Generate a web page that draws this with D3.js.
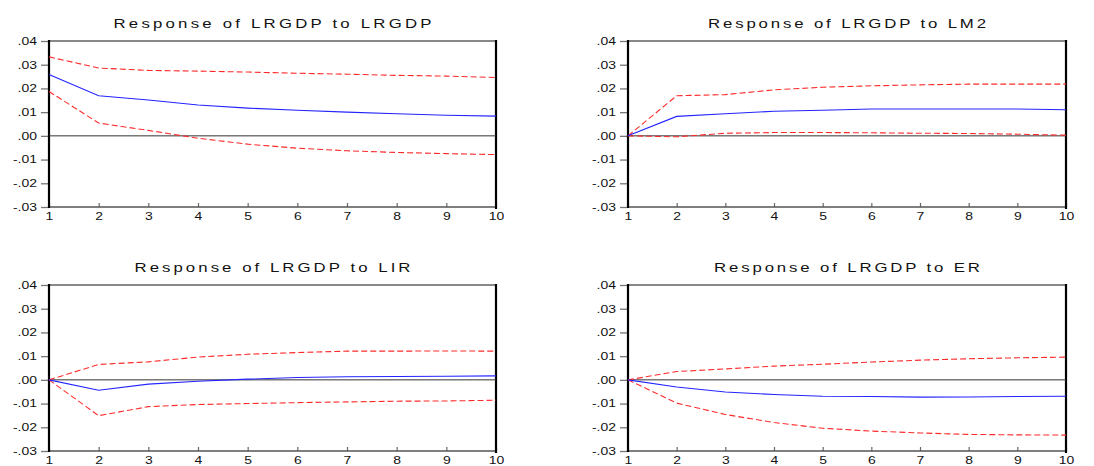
<!DOCTYPE html>
<html>
<head>
<meta charset="utf-8">
<script src="https://cdn.jsdelivr.net/npm/d3@7"></script>
<style>
  body { margin: 0; background: #fff; }
  svg { display: block; }
  text { font-family: "Liberation Sans", Arial, sans-serif; fill: #111; }
</style>
</head>
<body>
<svg id="chart" width="1094" height="466"></svg>
<script>
// impulse response periods and y ticks
const periods = [1, 2, 3, 4, 5, 6, 7, 8, 9, 10];
const yTicks = [-0.03, -0.02, -0.01, 0.00, 0.01, 0.02, 0.03, 0.04];

const titles = ["Response of LRGDP to LRGDP", "Response of LRGDP to LM2",
                "Response of LRGDP to LIR", "Response of LRGDP to ER"];

// response, lower band, upper band
const respLRGDP = [0.0259, 0.0169, 0.0151, 0.0130, 0.0117, 0.0108, 0.0100, 0.0093, 0.0087, 0.0083];
const lowLRGDP  = [0.0187, 0.0054, 0.0023, -0.0010, -0.0035, -0.0052, -0.0063, -0.0070, -0.0075, -0.0079];
const upLRGDP   = [0.0333, 0.0286, 0.0276, 0.0273, 0.0269, 0.0264, 0.0260, 0.0255, 0.0252, 0.0246];

const respLM2 = [0, 0.0082, 0.0093, 0.0104, 0.0108, 0.0113, 0.0113, 0.0113, 0.0113, 0.0110];
const lowLM2  = [0, -0.0004, 0.0011, 0.0014, 0.0014, 0.0013, 0.0011, 0.0010, 0.0007, 0.0003];
const upLM2   = [0, 0.0169, 0.0174, 0.0194, 0.0205, 0.0211, 0.0215, 0.0218, 0.0218, 0.0218];

const respLIR = [0, -0.0044, -0.0018, -0.0006, 0.0003, 0.0010, 0.0013, 0.0014, 0.0015, 0.0017];
const lowLIR  = [0, -0.0151, -0.0113, -0.0104, -0.0100, -0.0096, -0.0093, -0.0090, -0.0089, -0.0086];
const upLIR   = [0, 0.0065, 0.0076, 0.0096, 0.0108, 0.0115, 0.0121, 0.0121, 0.0122, 0.0121];

const respER = [0, -0.0030, -0.0051, -0.0062, -0.0069, -0.0070, -0.0073, -0.0072, -0.0070, -0.0069];
const lowER  = [0, -0.0098, -0.0146, -0.0180, -0.0204, -0.0216, -0.0224, -0.0230, -0.0232, -0.0233];
const upER   = [0, 0.0035, 0.0046, 0.0058, 0.0066, 0.0075, 0.0083, 0.0089, 0.0093, 0.0096];

const panelData = [
  [respLRGDP, lowLRGDP, upLRGDP],
  [respLM2, lowLM2, upLM2],
  [respLIR, lowLIR, upLIR],
  [respER, lowER, upER]
];

const svg = d3.select("#chart");
const stretch = 1.33;

const tickFmt = d => (d < 0 ? "-" : "") + "." + String(Math.round(Math.abs(d) * 100)).padStart(2, "0");

class IRFPanel {
  constructor(svg, box, title, series) {
    const vis = this;
    vis.svg = svg;
    vis.box = box;
    vis.title = title;
    vis.series = series;

    vis.xScale = d3.scaleLinear()
        .domain([1, 10])
        .range([box.left, box.right]);
    vis.yScale = d3.scaleLinear()
        .domain([-0.03, 0.04])
        .range([box.bottom, box.top]);
    vis.line = d3.line()
        .x((d, i) => vis.xScale(periods[i]))
        .y(d => vis.yScale(d));

    vis.draw();
  }

  draw() {
    const vis = this;
    const b = vis.box;
    const g = vis.svg.append("g");

    // title
    g.append("text")
      .attr("transform", `translate(${(b.left + b.right) / 2},${b.top - 13}) scale(1.4,1)`)
      .attr("text-anchor", "middle")
      .attr("font-size", "12px")
      .attr("textLength", b.titleWidth / 1.4)
      .attr("lengthAdjust", "spacing")
      .text(vis.title);

    // axes
    const yAxis = d3.axisLeft(vis.yScale)
        .tickValues(yTicks)
        .tickFormat(tickFmt)
        .tickSizeInner(8)
        .tickSizeOuter(0)
        .tickPadding(4);
    const gy = g.append("g")
        .attr("transform", `translate(${b.left},0)`)
        .call(yAxis);
    gy.select(".domain").remove();
    gy.selectAll(".tick line").attr("stroke", "#777").attr("stroke-width", 1.3);
    gy.selectAll(".tick text")
      .attr("font-size", "10.5px")
      .attr("fill", "#111")
      .each(function() {
        const t = d3.select(this);
        const x = +t.attr("x");
        t.attr("x", 0).attr("transform", `translate(${x},0) scale(${stretch},1)`);
      });

    const xAxis = d3.axisBottom(vis.xScale)
        .tickValues(periods)
        .tickFormat(d3.format("d"))
        .tickSizeInner(-4)
        .tickSizeOuter(0)
        .tickPadding(6);
    const gx = g.append("g")
        .attr("transform", `translate(0,${b.bottom})`)
        .call(xAxis);
    gx.select(".domain").remove();
    gx.selectAll(".tick line").attr("stroke", "#666").attr("stroke-width", 1.2);
    gx.selectAll(".tick text")
      .attr("font-size", "10.5px")
      .attr("fill", "#111")
      .each(function() {
        const t = d3.select(this);
        const y = t.attr("y");
        t.attr("y", 0).attr("transform", `translate(0,${y}) scale(${stretch},1)`);
      });

    // frame
    g.append("line")
      .attr("x1", b.left).attr("x2", b.right)
      .attr("y1", b.top).attr("y2", b.top)
      .attr("stroke", "#888").attr("stroke-width", 2);
    g.append("line")
      .attr("x1", b.left).attr("x2", b.right)
      .attr("y1", b.bottom).attr("y2", b.bottom)
      .attr("stroke", "#555").attr("stroke-width", 1.5);
    g.append("line")
      .attr("x1", b.left).attr("x2", b.left)
      .attr("y1", b.top - 1).attr("y2", b.bottom + 1)
      .attr("stroke", "#000").attr("stroke-width", 2.2);
    g.append("line")
      .attr("x1", b.right).attr("x2", b.right)
      .attr("y1", b.top - 1).attr("y2", b.bottom + 2)
      .attr("stroke", "#000").attr("stroke-width", 2.2);

    // zero line
    g.append("line")
      .attr("x1", b.left).attr("x2", b.right)
      .attr("y1", vis.yScale(0)).attr("y2", vis.yScale(0))
      .attr("stroke", "#333").attr("stroke-width", 1);

    // bands
    [vis.series[1], vis.series[2]].forEach(s => {
      g.append("path")
        .attr("fill", "none")
        .attr("stroke", "#ff2b2b")
        .attr("stroke-width", 1.1)
        .attr("stroke-dasharray", "6,3")
        .attr("d", vis.line(s));
    });

    // response
    g.append("path")
      .attr("fill", "none")
      .attr("stroke", "#2424ff")
      .attr("stroke-width", 1.1)
      .attr("d", vis.line(vis.series[0]));
  }
}

const boxes = [
  {left: 49, right: 496, top: 41, bottom: 207, titleWidth: 318},
  {left: 628, right: 1066, top: 41, bottom: 207, titleWidth: 278},
  {left: 49, right: 496, top: 285, bottom: 451, titleWidth: 276},
  {left: 628, right: 1066, top: 285, bottom: 451, titleWidth: 266}
];

boxes.forEach((b, i) => new IRFPanel(svg, b, titles[i], panelData[i]));
</script>
</body>
</html>
